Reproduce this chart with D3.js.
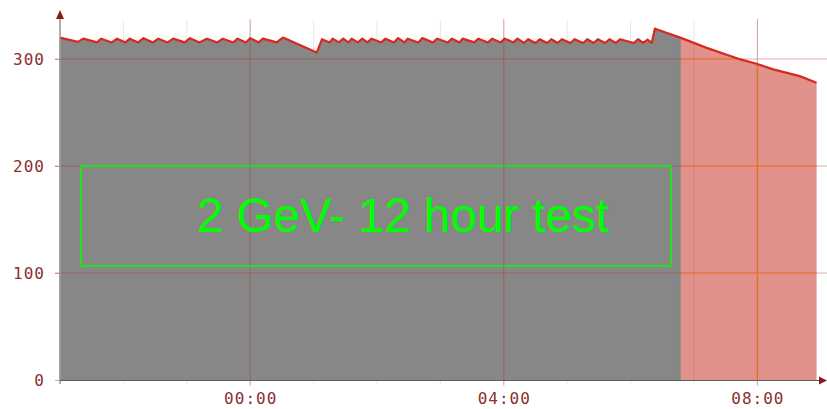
<!DOCTYPE html>
<html>
<head>
<meta charset="utf-8">
<script src="https://cdn.jsdelivr.net/npm/d3@7"></script>
<style>
  html, body { margin: 0; padding: 0; background: #fff; }
  svg { display: block; }
  .tick-label { font-family: "DejaVu Sans Mono", monospace; font-size: 16px; letter-spacing: 1px; fill: #8b2e2e; }
</style>
</head>
<body>
<div id="chart"></div>
<script>
// 2 GeV beam current, 12 hour run (time axis starts 21:00)
const startTime = '21:00';

// minutes after the start time
const minutes = [
  0, 17, 22, 35, 39, 49, 54, 62, 66, 74, 79, 88, 93, 102, 107, 118, 123, 132, 139,
  149, 154, 164, 168, 176, 180, 188, 192, 205, 211,
  243, 248,
  255, 258, 264, 268, 273, 276, 282, 286, 291, 295, 304, 308, 316, 320, 326, 329,
  339, 343, 353, 357, 367, 371, 378, 381, 392, 396, 405, 409, 417, 421, 429, 433,
  439, 443, 450, 454, 461, 465, 471, 475, 483, 487, 495, 499, 505, 509, 516, 520,
  526, 530, 543, 547, 552, 556, 560,
  563, 565,
  587, 612, 644, 659, 675, 700, 716
];

const values = [
  320, 316, 319, 315.5, 319, 315.5, 319, 315.5, 319, 315.5, 319.5, 315.5, 319, 315.5, 319, 315.5, 319.5, 315.5, 319,
  315.5, 319, 315.5, 319, 315.5, 319.5, 315.5, 319, 315.5, 320,
  306, 318.5,
  315.5, 319, 315.5, 319, 315.5, 319, 315.5, 319, 315.5, 319, 315.5, 319, 315.5, 319.5, 315.5, 319,
  315.5, 319.5, 315.5, 319, 315.5, 319, 315.5, 319, 315.5, 319, 315.5, 319, 315.5, 319, 315.5, 319,
  315, 318.5, 315, 318.5, 315, 318.5, 315, 318.5, 315, 318.5, 315, 318.5, 315, 318.5, 315, 318.5,
  315, 318.5, 315, 318.5, 315, 318, 315,
  328.5, 327.5,
  320, 310.4, 299.6, 295.6, 290.3, 284, 277.8
];

// minute at which the shaded region changes colour
const splitMinute = 587;

const yTicks = [0, 100, 200, 300];
const xTickLabels = ['00:00', '04:00', '08:00'];
const annotation = '2 GeV- 12 hour test';

const width = 827, height = 409;
const base = new Date(2014, 0, 1, +startTime.slice(0, 2), +startTime.slice(3));
const toDate = m => d3.timeMinute.offset(base, m);
const tickDate = s => new Date(2014, 0, 2, +s.slice(0, 2), +s.slice(3));

const data = minutes.map((m, i) => ({ m, t: toDate(m), v: values[i] }));

const x = d3.scaleTime()
  .domain([base, d3.timeHour.offset(base, 12)])
  .range([60, 820.8]);
const y = d3.scaleLinear().domain([0, 300]).range([380, 59]);

const svg = d3.select('#chart').append('svg').attr('width', width).attr('height', height);
const defs = svg.append('defs');

const area = d3.area().x(d => x(d.t)).y0(y(0)).y1(d => y(d.v));
const line = d3.line().x(d => x(d.t)).y(d => y(d.v));

const grayData = data.filter(d => d.m <= splitMinute);
const pinkData = data.filter(d => d.m >= splitMinute);

// hourly minor grid, sits behind the areas
const hours = d3.timeHour.range(base, d3.timeHour.offset(base, 12.1));
svg.append('g').selectAll('line')
  .data(hours)
  .enter().append('line')
  .attr('x1', d => x(d)).attr('x2', d => x(d))
  .attr('y1', 20).attr('y2', 384)
  .attr('stroke', '#e8e8e8').attr('stroke-width', 1);

svg.append('path').datum(pinkData).attr('d', area).attr('fill', '#e0918a');
// thin stroke in the same grey hides the anti-alias seam at the split
svg.append('path').datum(grayData).attr('d', area)
  .attr('fill', '#878787').attr('stroke', '#878787').attr('stroke-width', 1);

defs.append('clipPath').attr('id', 'pinkClip')
  .append('path').datum(pinkData).attr('d', area);

// major grid (drawn on top, translucent red)
const majors = xTickLabels.map(tickDate);
const grid = svg.append('g');
grid.selectAll('.hgrid').data(yTicks.filter(v => v > 0)).enter().append('line')
  .attr('x1', 55).attr('x2', width)
  .attr('y1', d => y(d)).attr('y2', d => y(d))
  .attr('stroke', 'rgba(180,40,40,0.38)').attr('stroke-width', 1);
grid.selectAll('.vgrid').data(majors).enter().append('line')
  .attr('x1', d => x(d)).attr('x2', d => x(d))
  .attr('y1', 19).attr('y2', 386)
  .attr('stroke', 'rgba(180,40,40,0.38)').attr('stroke-width', 1);

// grid inside the pink region shows orange
const pinkGrid = svg.append('g').attr('clip-path', 'url(#pinkClip)');
pinkGrid.selectAll('.hp').data(yTicks.filter(v => v > 0)).enter().append('line')
  .attr('x1', 55).attr('x2', width)
  .attr('y1', d => y(d)).attr('y2', d => y(d))
  .attr('stroke', '#f07a35').attr('stroke-width', 1.2);
pinkGrid.selectAll('.vp').data(majors).enter().append('line')
  .attr('x1', d => x(d)).attr('x2', d => x(d))
  .attr('y1', 19).attr('y2', 386)
  .attr('stroke', '#f07a35').attr('stroke-width', 1.5);
pinkGrid.selectAll('.mp').data(hours).enter().append('line')
  .attr('x1', d => x(d)).attr('x2', d => x(d))
  .attr('y1', 19).attr('y2', 386)
  .attr('stroke', 'rgba(150,70,60,0.18)').attr('stroke-width', 1);

// data line
svg.append('path').datum(data).attr('d', line)
  .attr('fill', 'none').attr('stroke', '#d9281e').attr('stroke-width', 2.2)
  .attr('stroke-linejoin', 'round');

// axes
const yAxis = svg.append('g').attr('transform', 'translate(60,0)')
  .call(d3.axisLeft(y).tickValues(yTicks).tickSize(5).tickPadding(10));
yAxis.select('.domain').remove();
yAxis.selectAll('line').attr('stroke', 'rgba(180,40,40,0.45)');
yAxis.selectAll('text').attr('class', 'tick-label').attr('dy', '0.36em');

const xAxis = svg.append('g').attr('transform', 'translate(0,380)')
  .call(d3.axisBottom(x).tickValues(majors).tickFormat(d3.timeFormat('%H:%M')).tickSize(0).tickPadding(13));
xAxis.select('.domain').remove();
xAxis.selectAll('text').attr('class', 'tick-label');

svg.append('line').attr('x1', 60).attr('x2', 60).attr('y1', 16).attr('y2', 384)
  .attr('stroke', '#9a9a9a').attr('stroke-width', 1.5);
svg.append('line').attr('x1', 60).attr('x2', 822).attr('y1', 380.5).attr('y2', 380.5)
  .attr('stroke', '#5e5e5e').attr('stroke-width', 1.2);
svg.append('path').attr('d', 'M60,10 L56,19 L64,19 Z').attr('fill', '#8b1a1a');
svg.append('path').attr('d', 'M827,380.5 L819,376.5 L819,384.5 Z').attr('fill', '#8b1a1a');

// annotation box
svg.append('rect')
  .attr('x', 81).attr('y', 166).attr('width', 590).attr('height', 100)
  .attr('fill', 'none').attr('stroke', '#00ff00').attr('stroke-width', 1.5);
svg.append('text')
  .attr('x', 197).attr('y', 232)
  .attr('font-family', '"Liberation Sans", Arial, sans-serif')
  .attr('font-size', 47.5)
  .attr('fill', '#00ff00')
  .text(annotation);
</script>
</body>
</html>
